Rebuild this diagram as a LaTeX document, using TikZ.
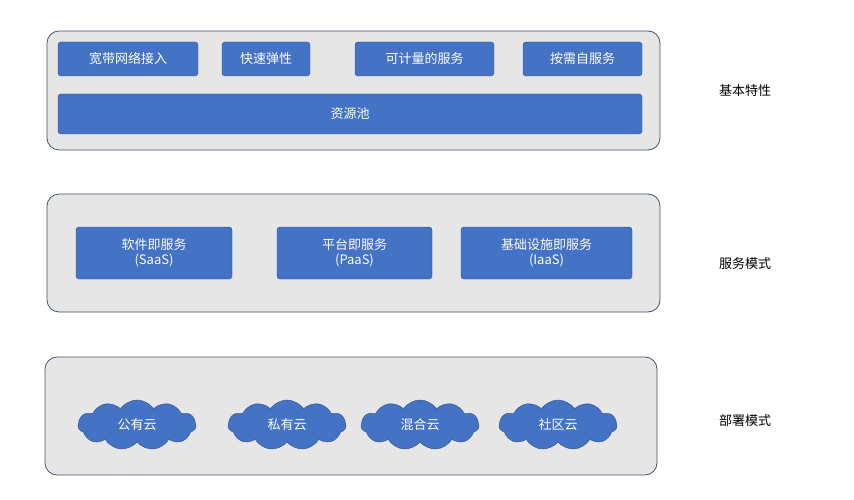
\documentclass[tikz,border=0pt]{standalone}
\usepackage{fontspec}
\setmainfont{Noto Sans CJK SC}
\usetikzlibrary{shapes.symbols}
\definecolor{boxblue}{HTML}{4472C4}
\definecolor{boxedge}{HTML}{2F528F}
\definecolor{panelgray}{HTML}{E7E6E6}
\definecolor{paneledge}{HTML}{44546A}
\begin{document}
\begin{tikzpicture}[x=1pt,y=-1pt]
\tikzstyle{panel}=[draw=paneledge, fill=panelgray, rounded corners=12pt, line width=0.8pt]
\tikzstyle{item}=[draw=boxedge, fill=boxblue, text=white, rounded corners=3pt, font=\fontsize{13}{15}\selectfont, inner sep=0pt, align=center]
\tikzstyle{puff}=[cloud, cloud puffs=11, cloud puff arc=110, aspect=2.4, draw=boxedge, fill=boxblue, text=white, font=\fontsize{13}{15}\selectfont, minimum width=118pt, minimum height=50pt, inner sep=0pt]
\tikzstyle{side}=[font=\fontsize{13}{15}\selectfont]
\useasboundingbox (0,0) rectangle (854,500);

\draw[panel] (47,31) rectangle (660,150);
\draw[panel] (47,194) rectangle (660,312);
\draw[panel] (45,357) rectangle (657,475);

\node[item, minimum width=140pt, minimum height=34pt] (wide) at (128,59) {宽带网络接入};
\node[item, minimum width=88pt, minimum height=34pt] (elastic) at (266,59) {快速弹性};
\node[item, minimum width=139pt, minimum height=34pt] (metered) at (424.5,59) {可计量的服务};
\node[item, minimum width=119pt, minimum height=34pt] (ondemand) at (582.5,59) {按需自服务};
\node[item, minimum width=584pt, minimum height=40pt] (pool) at (350,114) {资源池};

\node[item, minimum width=156pt, minimum height=52pt] (saas) at (154,253) {软件即服务\\(SaaS)};
\node[item, minimum width=155pt, minimum height=52pt] (paas) at (354.5,253) {平台即服务\\(PaaS)};
\node[item, minimum width=171pt, minimum height=52pt] (iaas) at (546.5,253) {基础设施即服务\\(IaaS)};

\node[puff] (public) at (137,425) {公有云};
\node[puff] (private) at (287,425) {私有云};
\node[puff] (hybrid) at (420,425) {混合云};
\node[puff] (community) at (558,425) {社区云};

\node[side] (basic) at (745,91) {基本特性};
\node[side] (service) at (745,264) {服务模式};
\node[side] (deploy) at (745,421) {部署模式};
\end{tikzpicture}
\end{document}
